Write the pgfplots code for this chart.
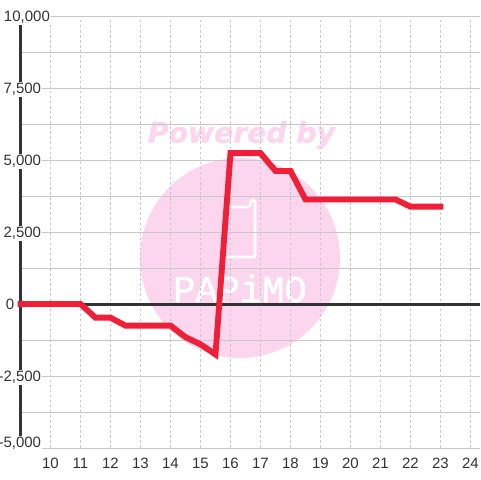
\documentclass[border=0pt]{standalone}
\usepackage{graphicx}
\usepackage{pgfplots}
\pgfplotsset{compat=1.18}
\usepackage{fontspec}
\setmainfont{Liberation Sans}
\newfontfamily\wmfont[FakeBold=0.6]{DejaVu Sans Bold Oblique}
\newfontfamily\logofont[FakeBold=1.5]{Liberation Mono}
\definecolor{wm}{HTML}{FBD6EE}
\definecolor{gridc}{HTML}{C8C8C8}
\definecolor{axc}{HTML}{333333}
\definecolor{redl}{HTML}{F01F38}
\setlength{\fboxsep}{0.75pt}
% dx, dy, text: white-backed tick label moved from the default place
\newcommand{\yl}[3]{\raisebox{#2}[0pt][0pt]{\hspace*{#1}\colorbox{white}{\rule[-1.2pt]{0pt}{8.3pt}#3}\hspace*{-#1}}}
\begin{document}
\begin{tikzpicture}
\useasboundingbox (0,0) rectangle (360pt,360pt);
\begin{scope}[x=0.75pt,y=0.75pt]
\fill[white] (0,0) rectangle (480,480);
\fill[wm] (240,222) circle (100);
\node[inner sep=0pt,text=wm] at (241.5,345) {\resizebox{140.25pt}{!}{\wmfont Powered by}};
\draw[white,line width=1.9pt,rounded corners=1.5pt,line cap=round] (230,273) -- (250,273) -- (251,280) -- (255,280) -- (255,223) -- (228,223);
\node[inner sep=0pt,text=white] at (240,191.5) {\resizebox{100pt}{20.5pt}{\logofont PAPiMO}};
\end{scope}
\begin{axis}[
  at={(15.375pt,24pt)},anchor=south west,
  scale only axis,width=344.625pt,height=324pt,
  xmin=9,xmax=24.3167,ymin=-5000,ymax=10000,
  axis x line=bottom,axis y line=left,
  x axis line style={-,draw=gridc,line width=0.75pt},
  y axis line style={-,draw=axc,line width=2.25pt},
  clip=false,
  scaled y ticks=false,
  /pgf/number format/assume math mode=true,
  xtick={10,...,24},
  ytick={-5000,-2500,0,2500,5000,7500,10000},
  yticklabels={\yl{0pt}{0.25pt}{-5,000},\yl{0pt}{-4.45pt}{-2,500},\yl{-20.2pt}{-4.45pt}{0},\yl{0pt}{-4.45pt}{2,500},\yl{0pt}{-4.45pt}{5,000},\yl{0pt}{-4.45pt}{7,500},\yl{6.6pt}{-4.45pt}{10,000}},
  minor ytick={-3750,-1250,1250,3750,6250,8750},
  tick style={draw=none},
  minor tick style={draw=none},
  tick label style={font=\fontsize{11.25}{13}\selectfont,text=axc},
  yticklabel style={anchor=east,inner sep=0pt,xshift=18.5pt},
  xticklabel style={inner sep=0pt,anchor=center,yshift=-9.4pt},
  xmajorgrids,ymajorgrids,yminorgrids,
  x grid style={gridc,dash pattern=on 1.9pt off 1.9pt,line width=0.7pt},
  y grid style={gridc,solid,line width=0.75pt},
  minor y grid style={gridc,solid,line width=0.75pt},
]
\addplot[axc,line width=2.25pt,forget plot] coordinates {(9,0)(24.3167,0)};
\addplot[redl,line width=4.4pt,line cap=rect,line join=miter,forget plot] coordinates {
(9,0)(11,0)(11.5,-475)(12,-475)(12.5,-750)(13,-750)(14,-750)(14.5,-1150)(15,-1400)(15.5,-1750)
(16,5240)(17,5240)(17.5,4620)(18,4620)(18.5,3630)(19,3630)(20,3630)(21,3630)(21.5,3630)(22,3380)(23,3380)};
\end{axis}
\end{tikzpicture}
\end{document}
